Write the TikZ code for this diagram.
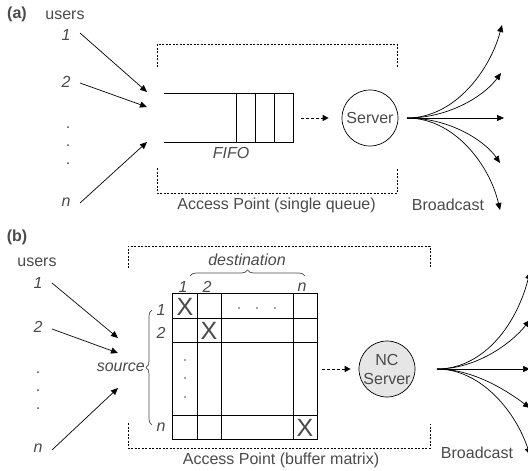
\documentclass[tikz,border=0pt]{standalone}
\usepackage{fontspec}
\setmainfont{Liberation Sans}
\usetikzlibrary{arrows.meta,decorations.pathreplacing}
\definecolor{txt}{HTML}{4A4A4A}
\definecolor{srvfill}{HTML}{E6E6E6}
\begin{document}
\begin{tikzpicture}[x=1pt,y=-1pt,
  font=\fontsize{16}{19}\selectfont,
  lbl/.style={text=txt, inner sep=0pt},
  num/.style={lbl, font=\fontsize{16}{19}\selectfont\itshape},
  arr/.style={-{Triangle[length=7pt,width=6pt]}, line width=0.7pt},
  darr/.style={-{Triangle[length=6pt,width=6pt]}, line width=0.9pt, dash pattern=on 3pt off 2pt},
  apbox/.style={line width=0.7pt, dash pattern=on 2pt off 1.5pt},
  cell/.style={line width=0.8pt},
  xmark/.style={text=txt, inner sep=0pt, font=\fontsize{25}{25}\selectfont},
  dot/.style={fill=txt, draw=none},
  server/.style={circle, draw, line width=0.7pt, minimum size=56pt, inner sep=0pt, text=txt, align=center},
  brc/.style={decorate, decoration={brace, amplitude=6pt}, line width=0.7pt, draw=txt}]
\useasboundingbox (0,0) rectangle (528,471);

% ---------------- (a) single queue ----------------
\node[lbl, font=\fontsize{16}{19}\selectfont\bfseries] (tagA) at (17,14) {(a)};
\node[lbl] (usersA) at (65,15) {users};
\node[num] (a1) at (66,35) {1};
\node[num] (a2) at (66,82) {2};
\node[num] (an) at (66,202) {n};
\foreach \yy in {127,145,163} \fill[dot] (68,\yy) circle (1pt);

% access point frame
\draw[apbox] (157,67) -- (157,44) -- (397,44) -- (397,68);
\draw[apbox] (157,168) -- (157,193) -- (397,193) -- (397,168);
\node[lbl] (apA) at (276.5,205) {Access Point (single queue)};

% FIFO queue
\node[minimum width=129pt, minimum height=48pt, inner sep=0pt] (queue) at (228.5,118) {};
\draw[line width=0.8pt] (queue.north west) -- (queue.north east) -- (queue.south east) -- (queue.south west);
\foreach \xx in {236,255,274} \draw[line width=0.8pt] (\xx,94) -- (\xx,142);
\node[num] (fifo) at (231,153) {FIFO};

% user inputs
\coordinate (ia1) at (80,33);  \coordinate (qa1) at (147,92);
\coordinate (ia2) at (80,83);  \coordinate (qa2) at (147,107);
\coordinate (ian) at (80,203); \coordinate (qan) at (147,142);
\draw[arr] (ia1) -- (qa1);
\draw[arr] (ia2) -- (qa2);
\draw[arr] (ian) -- (qan);

% server
\node[server] (srvA) at (370,118) {Server};
\draw[darr] ([xshift=8pt]queue.east) -- ([xshift=-13pt]srvA.west);

% broadcast fan
\coordinate (fa) at (407,118);
\coordinate (ta1) at (502,25);
\coordinate (ta2) at (501,73);
\coordinate (ta3) at (504,118);
\coordinate (ta4) at (500,163);
\coordinate (ta5) at (500,210);
\draw[arr] (fa) .. controls (455,118) and (490,70) .. (ta1);
\draw[arr] (fa) .. controls (450,118) and (485,95) .. (ta2);
\draw[arr] (fa) -- (ta3);
\draw[arr] (fa) .. controls (450,118) and (485,141) .. (ta4);
\draw[arr] (fa) .. controls (455,118) and (490,166) .. (ta5);
\node[lbl] (bcA) at (448,205) {Broadcast};

% ---------------- (b) buffer matrix ----------------
\node[lbl, font=\fontsize{16}{19}\selectfont\bfseries] (tagB) at (17,237) {(b)};
\node[lbl] (usersB) at (37,262) {users};
\node[num] (b1) at (38,283) {1};
\node[num] (b2) at (38,327) {2};
\node[num] (bn) at (38,448) {n};
\foreach \yy in {372,390,408} \fill[dot] (38,\yy) circle (1pt);

% access point frame
\draw[apbox] (128,268) -- (128,246) -- (430,246) -- (430,268);
\draw[apbox] (128,423) -- (128,448) -- (430,448) -- (430,424);
\node[lbl] (apB) at (281,460) {Access Point (buffer matrix)};

% buffer matrix
\node[minimum width=144pt, minimum height=145pt, inner sep=0pt] (mat) at (245,366.5) {};
\draw[cell] (mat.north west) rectangle (mat.south east);
\foreach \xx in {197,221,293} \draw[cell] (\xx,294) -- (\xx,439);
\foreach \yy in {318,342,415} \draw[cell] (173,\yy) -- (317,\yy);
\node[xmark] (x11) at (185,306.5) {X};
\node[xmark] (x22) at (209,330.5) {X};
\node[xmark] (xnn) at (305,427.5) {X};
\foreach \xx in {239,257,275} \fill[dot] (\xx,308) circle (0.8pt);
\foreach \yy in {360,378,397} \fill[dot] (185,\yy) circle (0.8pt);

% row and column indices
\node[num] (c1) at (183,287) {1};
\node[num] (c2) at (207,287) {2};
\node[num] (cn) at (302,287) {n};
\node[num] (r1) at (161,310) {1};
\node[num] (r2) at (161,333) {2};
\node[num] (rn) at (161,427) {n};

% braces
\draw[brc] (190,276) -- (305,276);
\node[num] (dest) at (247,260) {destination};
\draw[brc] (152,425) -- (152,310);
\node[num, anchor=east] (src) at (145,367) {source};

% user inputs
\coordinate (ib1) at (52,283); \coordinate (qb1) at (118,338);
\coordinate (ib2) at (52,329); \coordinate (qb2) at (118,353);
\coordinate (ibn) at (52,450); \coordinate (qbn) at (118,388);
\draw[arr] (ib1) -- (qb1);
\draw[arr] (ib2) -- (qb2);
\draw[arr] (ibn) -- (qbn);

% network coding server
\node[server, fill=srvfill] (srvB) at (387,369) {NC\\Server};
\draw[darr] ([xshift=5pt]mat.east |- srvB.west) -- ([xshift=-8pt]srvB.west);

% broadcast fan
\coordinate (fb) at (437,369);
\coordinate (tb1) at (530,272);
\coordinate (tb2) at (530,320);
\coordinate (tb3) at (530,369);
\coordinate (tb4) at (530,408);
\coordinate (tb5) at (530,455);
\draw[arr] (fb) .. controls (480,369) and (515,330) .. (tb1);
\draw[arr] (fb) .. controls (475,369) and (510,345) .. (tb2);
\draw[arr] (fb) -- (tb3);
\draw[arr] (fb) .. controls (475,369) and (510,393) .. (tb4);
\draw[arr] (fb) .. controls (480,369) and (515,410) .. (tb5);
\node[lbl] (bcB) at (477,453) {Broadcast};
\end{tikzpicture}
\end{document}
